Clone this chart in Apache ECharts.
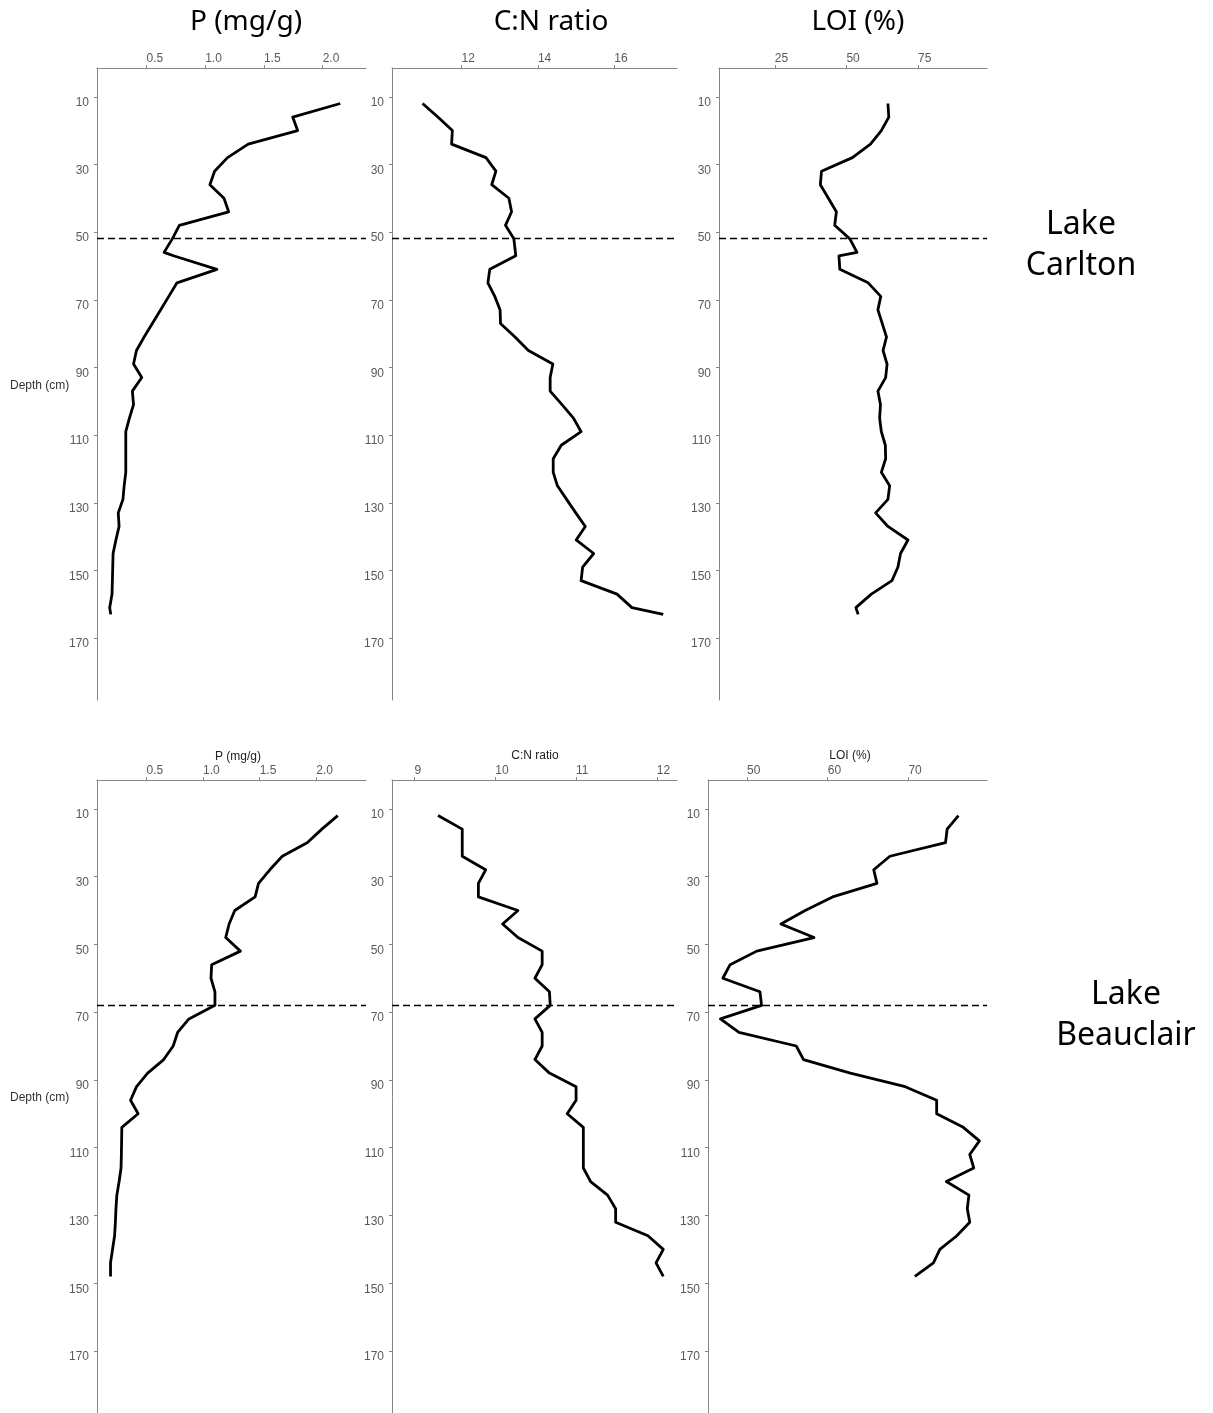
<!DOCTYPE html>
<html>
<head>
<meta charset="utf-8">
<script src="https://cdn.jsdelivr.net/npm/echarts@6.0.0/dist/echarts.min.js"></script>
<style>
  html, body { margin: 0; padding: 0; background: #ffffff; }
  #chart { width: 1213px; height: 1413px; }
</style>
</head>
<body>
<div id="chart"></div>
<script>
// ---- Sediment core profiles: depth (cm) and measured values ----
const carltonDepth = [12, 16, 20, 24, 28, 32, 36, 40, 44, 48, 52, 56, 57, 61, 65, 69, 73, 77, 81, 85,
  89, 93, 97, 101, 105, 109, 113, 117, 121, 125, 129, 133, 137, 141, 145, 149, 153, 157, 161, 163];
const carltonP = [2.15, 1.745, 1.787, 1.366, 1.19, 1.08, 1.04, 1.16, 1.20, 0.78, 0.72, 0.65, 0.73, 1.10, 0.76, 0.69,
  0.62, 0.55, 0.48, 0.415, 0.39, 0.46, 0.38, 0.39, 0.355, 0.324, 0.324, 0.324, 0.324, 0.31,
  0.30, 0.26, 0.267, 0.24, 0.216, 0.213, 0.21, 0.207, 0.187, 0.196];
const carltonCN = [10.98, 11.38, 11.76, 11.74, 12.64, 12.90, 12.79, 13.24, 13.31, 13.15, 13.37, 13.41, 13.42, 12.74,
  12.69, 12.87, 13.01, 13.02, 13.40, 13.75, 14.39, 14.32, 14.32, 14.63, 14.93, 15.13, 14.61, 14.40,
  14.40, 14.51, 14.75, 14.99, 15.24, 15.00, 15.46, 15.17, 15.13, 16.07, 16.46, 17.28];
const carltonLOI = [64.5, 64.8, 62.2, 58.4, 52.1, 41.3, 40.9, 43.7, 46.5, 45.9, 51.2, 53.7, 47.4, 47.7, 57.6, 62.0,
  61.0, 62.5, 64.0, 62.8, 64.2, 63.7, 61.0, 61.9, 61.6, 62.2, 63.6, 63.7, 62.2, 65.1, 64.5, 60.2,
  64.5, 71.5, 68.9, 68.0, 65.9, 58.7, 53.3, 54.1];
const carltonBoundary = 51.9;

const beauclairDepth = [12, 16, 20, 24, 28, 32, 36, 40, 44, 48, 52, 56, 60, 64, 68, 72, 76, 80, 84, 88,
  92, 96, 100, 104, 108, 112, 116, 120, 124, 128, 132, 136, 140, 144, 148];
const beauclairP = [2.19, 2.05, 1.92, 1.70, 1.59, 1.49, 1.46, 1.28, 1.23, 1.20, 1.33, 1.076, 1.07, 1.105, 1.105,
  0.875, 0.775, 0.736, 0.652, 0.51, 0.412, 0.359, 0.426, 0.282, 0.28, 0.278, 0.275, 0.258, 0.238,
  0.23, 0.225, 0.218, 0.20, 0.182, 0.182];
const beauclairCN = [9.29, 9.59, 9.59, 9.59, 9.88, 9.79, 9.79, 10.28, 10.09, 10.28, 10.58, 10.58, 10.49, 10.67,
  10.68, 10.49, 10.58, 10.58, 10.49, 10.67, 11.0, 11.0, 10.89, 11.09, 11.09, 11.09, 11.09, 11.18,
  11.39, 11.49, 11.49, 11.89, 12.08, 11.99, 12.08];
const beauclairLOI = [76.2, 74.8, 74.6, 67.7, 65.7, 66.1, 60.6, 57.2, 54.2, 58.3, 51.2, 47.9, 47.0, 51.6, 51.8,
  46.7, 49.0, 56.1, 57.0, 62.8, 69.6, 73.5, 73.5, 76.8, 78.8, 77.6, 78.1, 74.7, 77.5, 77.3, 77.6,
  76.0, 73.9, 73.1, 70.8];
const beauclairBoundary = 68;

// ---- Tick labels ----
const depthTicks = [10, 30, 50, 70, 90, 110, 130, 150, 170];
const pTicks = [0.5, 1.0, 1.5, 2.0];
const carltonCNTicks = [12, 14, 16];
const carltonLOITicks = [25, 50, 75];
const beauclairCNTicks = [9, 10, 11, 12];
const beauclairLOITicks = [50, 60, 70];

// ---- Panel layout ----
const DEPTH_MIN = 1.5, DEPTH_MAX = 188.3;
const AXIS_GREY = '#858585';
const LABEL_GREY = '#5a5a5a';
const TICK_FONT = '"Liberation Sans", Arial, sans-serif';

const panels = [
  { left: 97,  top: 68,  width: 269, height: 632, min: 0.079, max: 2.369, ticks: pTicks, fmt: v => v.toFixed(1),
    depth: carltonDepth, values: carltonP, boundary: carltonBoundary },
  { left: 392, top: 68,  width: 285, height: 632, min: 10.18, max: 17.64, ticks: carltonCNTicks, fmt: v => String(v),
    depth: carltonDepth, values: carltonCN, boundary: carltonBoundary },
  { left: 719, top: 68,  width: 268, height: 632, min: 5.5, max: 99.1, ticks: carltonLOITicks, fmt: v => String(v),
    depth: carltonDepth, values: carltonLOI, boundary: carltonBoundary },
  { left: 97,  top: 780, width: 269, height: 633, min: 0.0625, max: 2.44, ticks: pTicks, fmt: v => v.toFixed(1),
    depth: beauclairDepth, values: beauclairP, boundary: beauclairBoundary },
  { left: 392, top: 780, width: 285, height: 633, min: 8.72, max: 12.25, ticks: beauclairCNTicks, fmt: v => String(v),
    depth: beauclairDepth, values: beauclairCN, boundary: beauclairBoundary },
  { left: 708, top: 780, width: 279, height: 633, min: 45.16, max: 79.74, ticks: beauclairLOITicks, fmt: v => String(v),
    depth: beauclairDepth, values: beauclairLOI, boundary: beauclairBoundary }
];

const grids = panels.map(p => ({ left: p.left, top: p.top, width: p.width, height: p.height, containLabel: false }));

const xAxes = panels.map((p, i) => ({
  type: 'value', gridIndex: i, position: 'top', min: p.min, max: p.max,
  axisLine: { show: true, onZero: false, lineStyle: { color: AXIS_GREY, width: 1 } },
  axisTick: { show: true, length: 3, customValues: p.ticks, lineStyle: { color: AXIS_GREY, width: 1 } },
  axisLabel: { customValues: p.ticks, formatter: p.fmt, align: 'left', margin: 3,
    color: LABEL_GREY, fontSize: 12, fontFamily: TICK_FONT },
  splitLine: { show: false }
}));

const yAxes = panels.map((p, i) => ({
  type: 'value', gridIndex: i, inverse: true, min: DEPTH_MIN, max: DEPTH_MAX,
  axisLine: { show: true, onZero: false, lineStyle: { color: AXIS_GREY, width: 1 } },
  axisTick: { show: true, length: 3, customValues: depthTicks, lineStyle: { color: AXIS_GREY, width: 1 } },
  axisLabel: { customValues: depthTicks, margin: 8, verticalAlign: 'top',
    color: LABEL_GREY, fontSize: 12, fontFamily: TICK_FONT },
  splitLine: { show: false }
}));

const series = panels.map((p, i) => ({
  type: 'line', xAxisIndex: i, yAxisIndex: i,
  data: p.values.map((v, k) => [v, p.depth[k]]),
  symbol: 'none', showSymbol: false,
  lineStyle: { color: '#000000', width: 2.8, join: 'round' },
  itemStyle: { color: '#000000' },
  markLine: {
    silent: true, symbol: 'none', label: { show: false },
    lineStyle: { type: [7, 4], color: '#000000', width: 1.3 },
    data: [{ yAxis: p.boundary }]
  }
}));

function txt(x, y, text, size, opts) {
  return Object.assign({
    type: 'text', x: x, y: y, silent: true,
    style: Object.assign({ text: text, fill: '#000000', fontSize: size,
      fontFamily: '"Noto Sans", "Open Sans", sans-serif', align: 'center', verticalAlign: 'middle' }, opts || {})
  });
}

const graphics = [
  txt(246, 22, 'P (mg/g)', 28),
  txt(551, 22, 'C:N ratio', 28),
  txt(858, 22, 'LOI (%)', 28),
  txt(238, 756.5, 'P (mg/g)', 12, { fontFamily: TICK_FONT, fill: '#222222' }),
  txt(535, 756, 'C:N ratio', 12, { fontFamily: TICK_FONT, fill: '#222222' }),
  txt(850, 756, 'LOI (%)', 12, { fontFamily: TICK_FONT, fill: '#222222' }),
  txt(10, 386, 'Depth (cm)', 12, { fontFamily: TICK_FONT, fill: '#333333', align: 'left' }),
  txt(10, 1098, 'Depth (cm)', 12, { fontFamily: TICK_FONT, fill: '#333333', align: 'left' }),
  txt(1081, 245.5, 'Lake\nCarlton', 32, { lineHeight: 41 }),
  txt(1126, 1015.5, 'Lake\nBeauclair', 32, { lineHeight: 41 })
];

const chart = echarts.init(document.getElementById('chart'), null, { renderer: 'canvas' });
chart.setOption({
  backgroundColor: '#ffffff',
  animation: false,
  grid: grids,
  xAxis: xAxes,
  yAxis: yAxes,
  series: series,
  graphic: graphics
});
</script>
</body>
</html>
